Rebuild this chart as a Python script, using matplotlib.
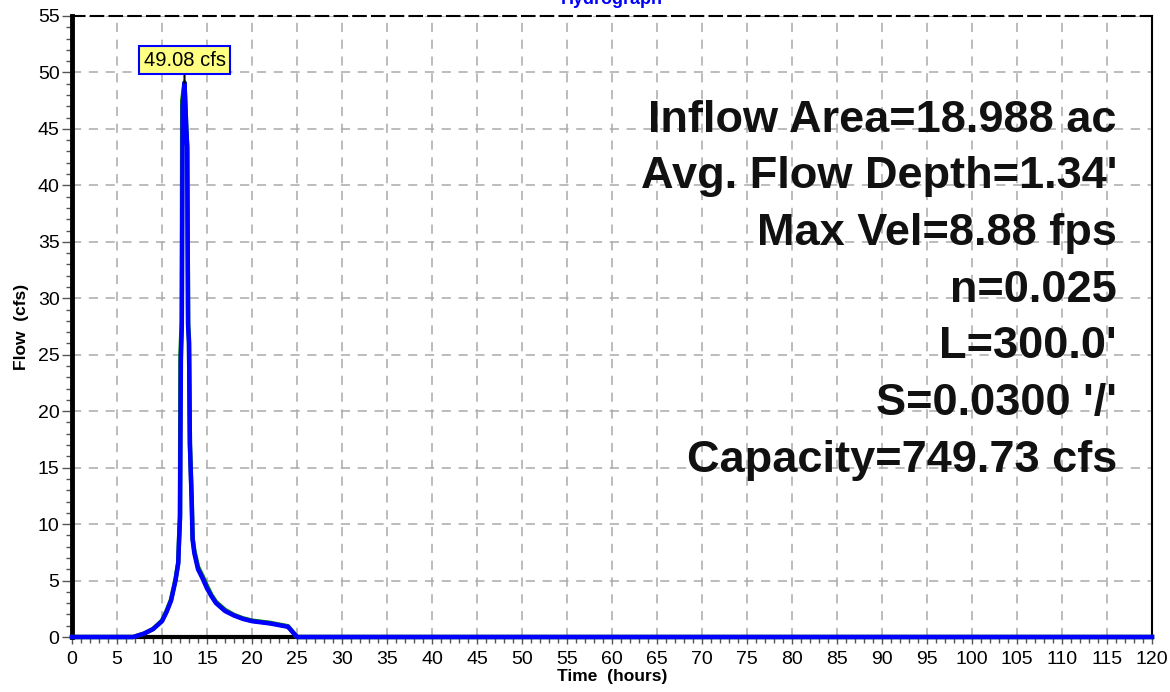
import matplotlib
matplotlib.use("Agg")
import matplotlib.pyplot as plt
from matplotlib.ticker import MultipleLocator

plt.rcParams['font.family'] = ['Liberation Sans', 'DejaVu Sans']

# Data (hours, cfs)
time_out = [0, 6.8, 8.0, 9.0, 10.0, 10.5, 11.0, 11.5, 11.8, 11.9, 12.0, 12.1, 12.2, 12.3, 12.5,
            12.7, 12.8, 12.9, 13.0, 13.1, 13.3, 13.4, 13.6, 14.0, 14.5, 15.0, 15.5, 16.0,
            17.0, 18.0, 19.0, 20.0, 22.0, 24.0, 25.0, 120.0]
flow_out = [0, 0, 0.3, 0.7, 1.4, 2.2, 3.2, 5.0, 6.5, 8.6, 10.5, 24.5, 27.5, 47.0, 49.08,
            45.0, 43.4, 27.5, 26.0, 17.0, 12.0, 8.6, 7.4, 6.0, 5.2, 4.3, 3.6, 3.0,
            2.3, 1.9, 1.6, 1.4, 1.2, 0.9, 0.0, 0.0]
time_in = [0, 6.8, 8.0, 9.0, 10.0, 10.5, 11.0, 11.5, 11.8, 11.9, 12.0, 12.05, 12.2, 12.25, 12.5,
           12.7, 12.8, 12.9, 13.0, 13.1, 13.3, 13.4, 13.6, 14.0, 14.5, 15.0, 15.5, 16.0,
           17.0, 18.0, 19.0, 20.0, 22.0, 24.0, 25.0, 120.0]
flow_in = [0, 0, 0.3, 0.7, 1.45, 2.3, 3.3, 5.1, 6.6, 8.8, 10.8, 25.0, 28.0, 47.5, 49.1,
           45.0, 43.4, 27.8, 26.3, 17.2, 12.2, 8.8, 7.6, 6.2, 5.4, 4.5, 3.7, 3.1,
           2.4, 1.95, 1.65, 1.45, 1.25, 0.95, 0.0, 0.0]

peak_time = 12.5
peak_flow = 49.08
peak_label = "49.08 cfs"

info_lines = ["Inflow Area=18.988 ac", "Avg. Flow Depth=1.34'", "Max Vel=8.88 fps",
              "n=0.025", "L=300.0'", "S=0.0300 '/'", "Capacity=749.73 cfs"]

fig = plt.figure(figsize=(11.7, 6.92), dpi=100)
ax = fig.add_axes([72/1170, 1-637/692, (1152-72)/1170, (637-16)/692])

ax.set_xlim(0, 120)
ax.set_ylim(0, 55)
ax.xaxis.set_major_locator(MultipleLocator(5))
ax.yaxis.set_major_locator(MultipleLocator(5))
ax.xaxis.set_minor_locator(MultipleLocator(1))
ax.yaxis.set_minor_locator(MultipleLocator(1))
ax.grid(True, which='major', color='#aaaaaa', linestyle=(0, (6, 5)), linewidth=1.1)
ax.set_axisbelow(True)

ax.tick_params(axis='y', which='major', direction='out', length=7, width=1, color='#555555',
               labelsize=14, pad=2)
ax.tick_params(axis='x', which='major', direction='out', length=5, width=1, color='#555555',
               labelsize=14, pad=5)
ax.tick_params(which='minor', direction='out', length=4, width=1, color='#555555')

ax.spines['left'].set_linewidth(3.5)
ax.spines['bottom'].set_linewidth(3)
ax.spines['right'].set_linewidth(1.5)
ax.spines['top'].set_linewidth(1.5)
ax.spines['top'].set_linestyle((0, (6, 3)))

ax.plot(time_in, flow_in, color='#008000', linewidth=3.2, solid_joinstyle='round', zorder=3, clip_on=False)
ax.plot(time_out, flow_out, color='#0000ff', linewidth=3.2, solid_joinstyle='round', zorder=4, clip_on=False)

ax.set_xlabel("Time  (hours)", fontsize=12.5, fontweight='bold', labelpad=1)
ax.set_ylabel("Flow  (cfs)", fontsize=12.5, fontweight='bold', labelpad=6)

ax.annotate(peak_label, xy=(peak_time, peak_flow), xytext=(peak_time, 51.1),
            ha='center', va='center', fontsize=14.5,
            bbox=dict(boxstyle='square,pad=0.22', fc='#ffff80', ec='#0000ff', lw=1.5),
            arrowprops=dict(arrowstyle='-', color='black', lw=1.5, shrinkA=0, shrinkB=0),
            zorder=6)

y0 = 120
for i, line in enumerate(info_lines):
    fig.text(1117/1170, 1-(y0 + i*56.7)/692, line, ha='right', va='center',
             fontsize=32.5, fontweight='bold', color='#111111')

fig.text(612/1170, 1-4/692, "Hydrograph", ha='center', va='baseline',
         fontsize=13, fontweight='bold', color='#0000ff')

fig.savefig("out.png", dpi=100)
